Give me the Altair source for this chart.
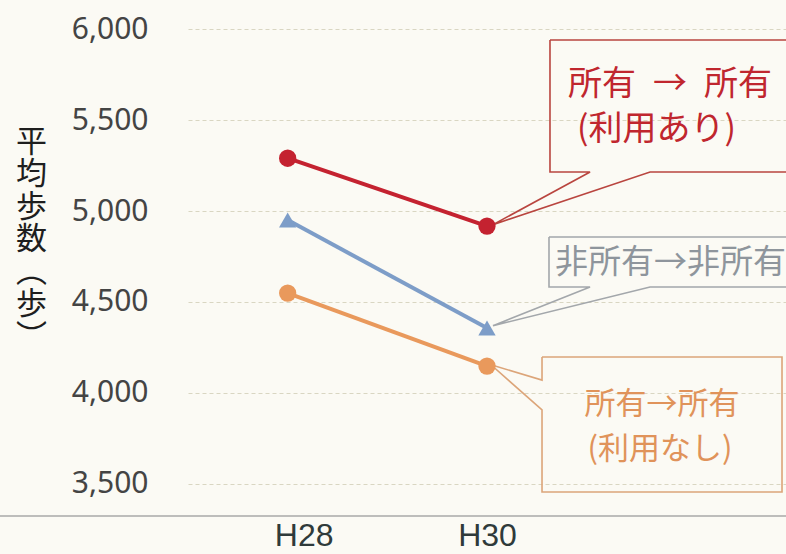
import altair as alt
import pandas as pd

# ---- data ----
years = ["H28", "H30"]
series_names = ["所有→所有(利用あり)", "非所有→非所有", "所有→所有(利用なし)"]
steps_with_use = [5290, 4917]
steps_non_owner = [4950, 4357]
steps_without_use = [4549, 4148]
y_ticks = [3500, 4000, 4500, 5000, 5500, 6000]
x_label_pos = [0.08, 1.0]   # where the year labels sit under the axis
y_title_chars = ["平", "均", "歩", "数", "︵", "歩", "︶"]

# callout outlines (in data units: x = year index, y = steps)
callout_red_x = [1.316, 2.57, 2.57, 1.818, 1.03, 1.517, 1.316, 1.316]
callout_red_y = [5940, 5940, 5214, 5214, 4925, 5214, 5214, 5940]
callout_blue_x = [1.311, 2.57, 2.57, 1.818, 1.03, 1.517, 1.311, 1.311]
callout_blue_y = [4857, 4857, 4582, 4582, 4370, 4582, 4582, 4857]
callout_orange_x = [1.276, 2.48, 2.48, 1.276, 1.276, 1.02, 1.276, 1.276]
callout_orange_y = [4198, 4198, 3456, 3456, 3907, 4155, 4071, 4198]

label_red = ["所有\u2002→\u2002所有", "(利用あり)"]
label_red_x = [1.918, 1.85]
label_red_y = [5692, 5445]
label_blue = ["非所有→非所有"]
label_blue_x = [1.341]
label_blue_y = [4714]
label_orange = ["所有→所有", "(利用なし)"]
label_orange_x = [1.878, 1.868]
label_orange_y = [3934, 3687]

colors = ["#c42230", "#7d9dc8", "#e9995c"]
shapes = ["circle", "triangle-up", "circle"]

rows = []
for name, vals in zip(series_names, [steps_with_use, steps_non_owner, steps_without_use]):
    for i, (yr, v) in enumerate(zip(years, vals)):
        rows.append({"series": name, "year": yr, "xi": i, "steps": v})
df = pd.DataFrame(rows)

x_scale = alt.Scale(domain=[-0.5, 2.5], nice=False, zero=False)
y_scale = alt.Scale(domain=[3324, 6132], nice=False, zero=False)
color_scale = alt.Scale(domain=series_names, range=colors)
shape_scale = alt.Scale(domain=series_names, range=shapes)

label_expr = "datum.value < 0.5 ? '%s' : '%s'" % (years[0], years[1])

x_enc = alt.X("xi:Q", scale=x_scale, axis=alt.Axis(
    values=x_label_pos, labelExpr=label_expr, title=None,
    labelFont="Liberation Sans", labelFontSize=32, labelColor="#2f3a3a",
    labelPadding=4, ticks=False, tickSize=0, domain=False, grid=False))
y_enc = alt.Y("steps:Q", scale=y_scale, axis=alt.Axis(
    values=y_ticks, format=",.0f", labelExpr="format(datum.value, ',')",
    labelFont="Noto Sans", labelFontSize=30,
    labelColor="#444444", labelPadding=40, ticks=False, tickSize=0,
    domain=False, grid=True, gridColor="#d9d6c2", gridDash=[4, 3], gridWidth=1,
    title=y_title_chars, titleAngle=0, titleX=-157, titleY=122,
    titleAlign="center", titleBaseline="top", titleFont="Noto Sans CJK JP",
    titleFontSize=31, titleFontWeight="normal", titleLineHeight=32.5,
    titleColor="#1e1e1e"))


def callout(xs, ys, color):
    d = pd.DataFrame({"i": list(range(len(xs))), "xi": xs, "steps": ys})
    return alt.Chart(d).mark_line(color=color, strokeWidth=1.6, clip=True).encode(
        x=x_enc, y=y_enc, order="i:Q")


def labels(texts, xs, ys, color, size, align="center"):
    d = pd.DataFrame({"t": texts, "xi": xs, "steps": ys})
    return alt.Chart(d).mark_text(
        font="Noto Sans CJK JP", fontSize=size, color=color, align=align,
        baseline="middle").encode(x=x_enc, y=y_enc, text="t:N")


base = alt.Chart(df)
lines = base.mark_line(strokeWidth=4).encode(
    x=x_enc, y=y_enc,
    color=alt.Color("series:N", scale=color_scale, legend=None),
    detail="series:N")
points = base.mark_point(filled=True, size=300, opacity=1).encode(
    x=x_enc, y=y_enc,
    color=alt.Color("series:N", scale=color_scale, legend=None),
    shape=alt.Shape("series:N", scale=shape_scale, legend=None))

baseline = alt.Chart(alt.Data(values=[{}])).mark_rule(
    color="#a8a8a8", strokeWidth=1.5).encode(
    x=alt.value(-188), x2=alt.value(598), y=alt.value(511))

chart = alt.layer(
    callout(callout_red_x, callout_red_y, "#b9453f"),
    callout(callout_blue_x, callout_blue_y, "#a3a7ab"),
    callout(callout_orange_x, callout_orange_y, "#dca579"),
    lines, points,
    labels(label_red, label_red_x, label_red_y, "#c0262e", 34),
    labels(label_blue, label_blue_x, label_blue_y, "#8e959c", 33, align="left"),
    labels(label_orange, label_orange_x, label_orange_y, "#e0935a", 31),
    baseline,
).properties(
    width=598, height=511, background="#fbfaf4",
    autosize=alt.AutoSizeParams(type="none"),
    padding={"left": 188, "top": 5, "right": 0, "bottom": 38},
).configure_view(strokeWidth=0)

chart.save("out.html", embed_options={"renderer": "svg", "actions": False})
